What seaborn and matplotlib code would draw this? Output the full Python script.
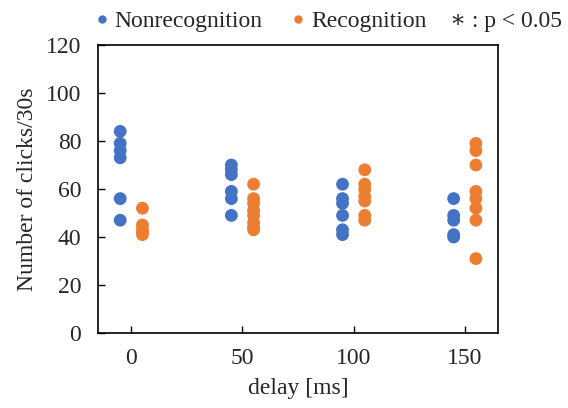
import matplotlib
matplotlib.use("Agg")
import matplotlib.pyplot as plt
import seaborn as sns
import pandas as pd
from matplotlib.lines import Line2D

delays = [0, 50, 100, 150]
nonrecognition = {
    0: [84, 79, 76, 73, 56, 47],
    50: [70, 68, 66, 59, 56, 49],
    100: [62, 56, 54, 49, 43, 41],
    150: [56, 49, 47, 41, 40],
}
recognition = {
    0: [52, 45, 43, 42, 41],
    50: [62, 56, 54, 51, 49, 46, 44, 43],
    100: [68, 62, 60, 57, 55, 49, 47],
    150: [79, 76, 70, 59, 56, 52, 47, 31],
}
group_names = ["Nonrecognition", "Recognition"]
colors = {"Nonrecognition": "#4472C4", "Recognition": "#ED7D31"}
offsets = {"Nonrecognition": -5, "Recognition": 5}

rows = []
for name, data in zip(group_names, [nonrecognition, recognition]):
    for d in delays:
        for v in data[d]:
            rows.append({"delay": d, "group": name, "clicks": v})
df = pd.DataFrame(rows)
df["xpos"] = df["delay"] + df["group"].map(offsets)

sns.set_style("ticks")
plt.rcParams["font.family"] = ["Liberation Serif", "DejaVu Serif"]

FS = 17
fig = plt.figure(figsize=(5.68, 4.08), dpi=100)
ax = fig.add_axes([0.1725, 0.1838, 0.7045, 0.7059])
sns.scatterplot(data=df, x="xpos", y="clicks", hue="group", palette=colors,
                s=85, edgecolor="none", legend=False, ax=ax, zorder=3)

ax.set_xlim(-15, 165)
ax.set_ylim(0, 120)
ax.set_xticks(delays)
ax.set_yticks(range(0, 121, 20))
ax.tick_params(labelsize=FS, direction="in", length=5, width=1, color="black")
ax.tick_params(axis="y", pad=12)
ax.tick_params(axis="x", pad=11)
for sp in ax.spines.values():
    sp.set_visible(True)
    sp.set_linewidth(1.2)
    sp.set_color("black")
ax.set_xlabel("delay [ms]", fontsize=FS, labelpad=6)
ax.set_ylabel("Number of clicks/30s", fontsize=FS, labelpad=6)

handles = [Line2D([], [], marker="o", linestyle="none", color=colors[g],
                  markersize=5, label=g) for g in group_names]
fig.legend(handles=handles, loc="center left", bbox_to_anchor=(0.158, 0.947),
           ncol=2, frameon=False, fontsize=FS, handletextpad=0.05,
           columnspacing=1.02, handlelength=1.0, borderaxespad=0, borderpad=0)
fig.text(0.792, 0.947, "∗ : p < 0.05", fontsize=FS, va="center", ha="left",
         family=["Liberation Serif", "DejaVu Serif"])

fig.savefig("out.png", dpi=100)
